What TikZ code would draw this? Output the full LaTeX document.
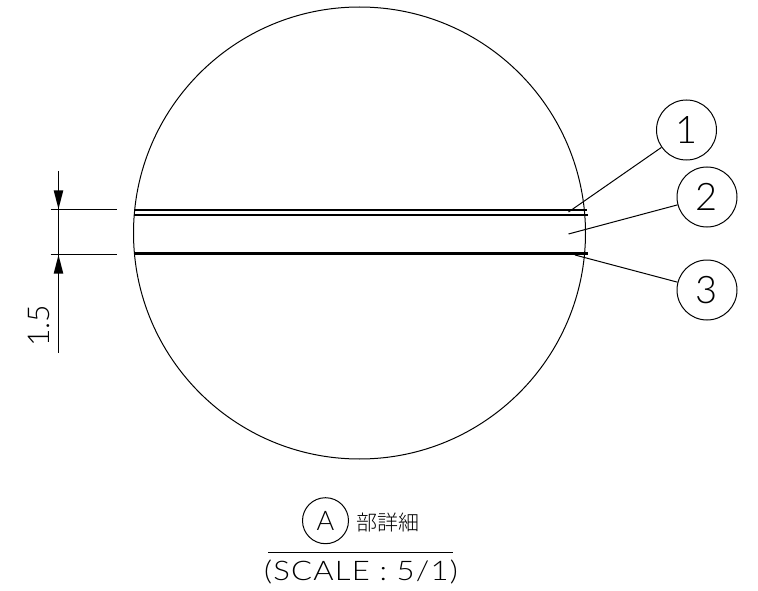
\documentclass[tikz,border=0pt]{standalone}
\usepackage{fontspec}
\setmainfont{Lato Light}
\newfontfamily\cjk{Noto Sans CJK JP Light}
\newfontfamily\spaced[LetterSpace=4]{Lato Light}
\tikzset{
  ln/.style={line width=1pt,black},
  tag/.style={circle,draw,line width=1pt,minimum size=60pt,inner sep=0pt,font=\fontsize{38}{38}\selectfont},
  wall/.style={black,line cap=butt},
}
\begin{document}
\begin{tikzpicture}[x=1pt,y=-1pt]
\useasboundingbox (0,0) rectangle (758,591);
\fill[white] (0,0) rectangle (758,591);
\coordinate (cc) at (359.5,233);
\draw[ln] (cc) circle (226);
\coordinate (l1a) at (134.5,209.5); \coordinate (l1b) at (587,209.5);
\coordinate (l2a) at (134,215.2); \coordinate (l2b) at (587.5,215.2);
\coordinate (l3a) at (134,253.5); \coordinate (l3b) at (587.5,253.5);
\draw[wall,line width=2pt] (l1a) -- (l1b);
\draw[wall,line width=2pt] (l2a) -- (l2b);
\draw[wall,line width=3.6pt] (l3a) -- (l3b);
\coordinate (e1a) at (50.5,209.5); \coordinate (e1b) at (117,209.5);
\coordinate (e2a) at (50.5,254.5); \coordinate (e2b) at (117,254.5);
\draw[ln] (e1a) -- (e1b);
\draw[ln] (e2a) -- (e2b);
\coordinate (d0) at (58.5,171); \coordinate (d1) at (58.5,353);
\draw[ln] (d0) -- (d1);
\fill (58.5,209) -- (53.7,190.5) -- (63.3,190.5) -- cycle;
\fill (58.5,255) -- (53.7,273.5) -- (63.3,273.5) -- cycle;
\node[rotate=90,font=\fontsize{30}{30}\selectfont,inner sep=0pt] (dim) at (38.5,326) {1.5};
\node[tag] (c1) at (686.5,130) {1};
\node[tag] (c2) at (707,197) {2};
\node[tag] (c3) at (707,290) {3};
\coordinate (p1) at (568.5,212);
\coordinate (p2) at (568.5,234);
\coordinate (p3) at (575,255);
\draw[ln] (c1) -- (p1);
\draw[ln] (c2) -- (p2);
\draw[ln] (c3) -- (p3);
\node[circle,draw,line width=1pt,minimum size=46pt,inner sep=0pt,font=\fontsize{27}{27}\selectfont] (ca) at (325.5,520.7) {A};
\node[font=\cjk\fontsize{21}{21}\selectfont,inner sep=0pt] (ttl) at (388,523) {部詳細};
\coordinate (r1) at (268,552.5); \coordinate (r2) at (453,552.5);
\draw[ln] (r1) -- (r2);
\node[font=\spaced\fontsize{27}{27}\selectfont,inner sep=0pt,anchor=base,xscale=1.15] (sc) at (361,580) {(SCALE : 5/1)};
\end{tikzpicture}
\end{document}
